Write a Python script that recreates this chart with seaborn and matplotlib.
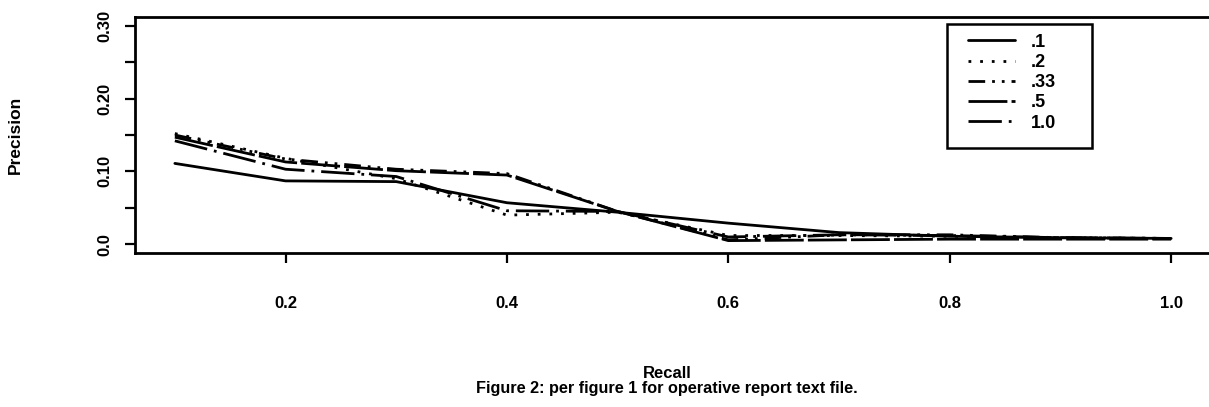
import matplotlib
matplotlib.use("Agg")
import matplotlib.pyplot as plt
from matplotlib.patches import Rectangle
import seaborn as sns
import numpy as np
import pandas as pd

recall = [0.1, 0.2, 0.3, 0.4, 0.5, 0.6, 0.7, 0.8, 0.9, 1.0]
p_01 = [0.111, 0.087, 0.086, 0.057, 0.044, 0.029, 0.016, 0.011, 0.009, 0.008]
p_02 = [0.152, 0.118, 0.090, 0.040, 0.044, 0.012, 0.012, 0.011, 0.009, 0.008]
p_033 = [0.150, 0.117, 0.103, 0.097, 0.045, 0.006, 0.013, 0.013, 0.009, 0.008]
p_05 = [0.147, 0.113, 0.101, 0.095, 0.045, 0.005, 0.006, 0.007, 0.007, 0.007]
p_10 = [0.142, 0.103, 0.093, 0.046, 0.045, 0.010, 0.013, 0.012, 0.009, 0.008]
labels = [".1", ".2", ".33", ".5", "1.0"]
series = [p_01, p_02, p_033, p_05, p_10]

styles = ["-", (0, (1, 3.2)), (0, (6, 2.5, 1, 2.5, 1, 2.5)), (0, (14, 1.5)), (0, (12, 2.5, 1, 2.5))]

sns.set_theme(style="white")
plt.rcParams["font.family"] = ["Liberation Sans", "DejaVu Sans"]
plt.rcParams["font.weight"] = "bold"
for k in ["text.color", "axes.labelcolor", "xtick.color", "ytick.color"]:
    plt.rcParams[k] = "black"

W, H = 1209, 407
fig = plt.figure(figsize=(W / 100, H / 100), dpi=100)
ax = fig.add_axes([135 / W, 1 - 253 / H, (1211 - 135) / W, (253 - 17) / H])

for lab, vals, ls in zip(labels, series, styles):
    df = pd.DataFrame({"Recall": recall, "Precision": vals})
    sns.lineplot(data=df, x="Recall", y="Precision", ax=ax, color="black",
                 linestyle=ls, linewidth=2.0, label=lab)

ax.set_xlim(0.064, 1.036)
ax.set_ylim(-0.012, 0.312)
ax.set_xticks([0.2, 0.4, 0.6, 0.8, 1.0])
ax.set_xticklabels(["0.2", "0.4", "0.6", "0.8", "1.0"], fontweight="bold", fontsize=12)
yt = [0.0, 0.05, 0.10, 0.15, 0.20, 0.25, 0.30]
ax.set_yticks(yt)
ax.set_yticklabels(["0.0", "", "0.10", "", "0.20", "", "0.30"], fontweight="bold",
                   fontsize=12, rotation=90, va="center")
ax.tick_params(axis="both", which="major", direction="out", length=7, width=1.6,
               color="black", labelcolor="black", bottom=True, left=True)
ax.tick_params(axis="x", pad=24)
ax.tick_params(axis="y", pad=9)
for s in ["left", "bottom", "top"]:
    ax.spines[s].set_visible(True)
    ax.spines[s].set_color("black")
    ax.spines[s].set_linewidth(2)
ax.spines["right"].set_visible(False)
ax.set_xlabel("")
ax.set_ylabel("")
ax.grid(False)

leg = ax.legend(loc="upper left", bbox_transform=fig.transFigure,
                bbox_to_anchor=(964 / W, 1 - 30 / H), borderaxespad=0,
                frameon=False, prop={"weight": "bold", "size": 13}, handlelength=2.6,
                labelspacing=0.18, handletextpad=0.9, borderpad=0.2)
for t in leg.get_texts():
    t.set_color("black")

fig.patches.append(Rectangle((947 / W, 1 - 148 / H), (1092 - 947) / W, (148 - 24) / H,
                             transform=fig.transFigure, fill=False, edgecolor="black",
                             linewidth=1.8, zorder=5))

fig.text(15 / W, 1 - 135 / H, "Precision", rotation=90, ha="center", va="center",
         fontsize=12.5, fontweight="bold")
fig.text(667 / W, 1 - 374 / H, "Recall", ha="center", va="center",
         fontsize=12, fontweight="bold")
fig.text(667 / W, 1 - 389 / H, "Figure 2: per figure 1 for operative report text file.",
         ha="center", va="center", fontsize=11.7, fontweight="bold")

fig.savefig("out.png", dpi=100)
